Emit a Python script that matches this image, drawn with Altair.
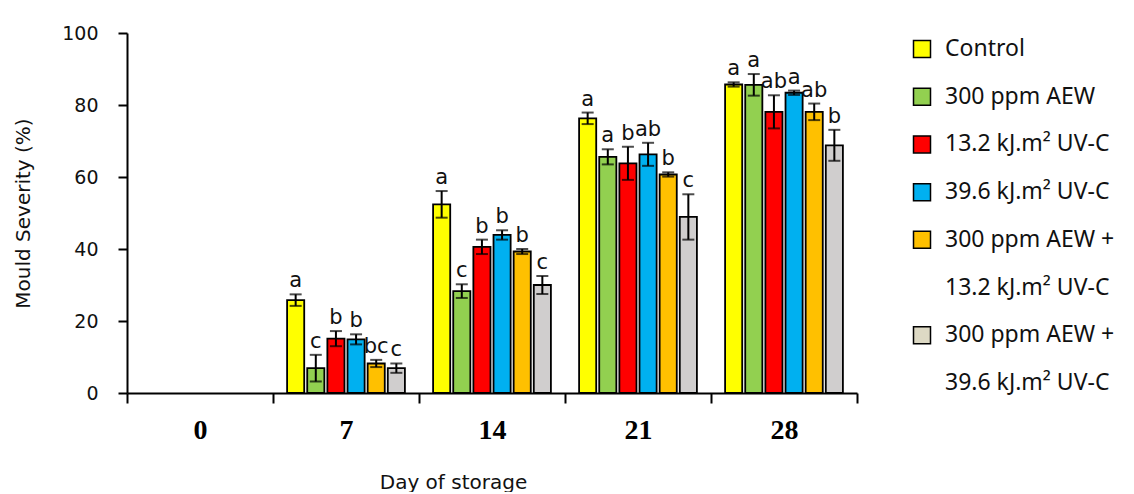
import altair as alt
import pandas as pd

days = ["0", "7", "14", "21", "28"]
treatments = [
    "Control",
    "300 ppm AEW",
    "13.2 kJ.m² UV-C",
    "39.6 kJ.m² UV-C",
    "300 ppm AEW + 13.2 kJ.m² UV-C",
    "300 ppm AEW + 39.6 kJ.m² UV-C",
]
bar_colors = ["#FFFF00", "#92D050", "#FF0000", "#00B0F0", "#FFC000", "#D0CECE"]
legend_colors = ["#FFFF00", "#92D050", "#FF0000", "#00B0F0", "#FFC000", "#DDD9C4"]

mean_control = [0, 25.8, 52.4, 76.3, 85.7]
mean_aew = [0, 6.9, 28.3, 65.6, 85.6]
mean_uv13 = [0, 15.1, 40.6, 63.8, 78.1]
mean_uv39 = [0, 14.9, 43.9, 66.3, 83.4]
mean_aew_uv13 = [0, 8.2, 39.3, 60.7, 78.1]
mean_aew_uv39 = [0, 6.9, 30.0, 48.9, 68.8]

err_control = [0, 1.6, 3.7, 1.6, 0.6]
err_aew = [0, 3.7, 1.9, 2.1, 3.0]
err_uv13 = [0, 2.1, 2.0, 4.6, 4.6]
err_uv39 = [0, 1.4, 1.3, 3.2, 0.6]
err_aew_uv13 = [0, 1.0, 0.7, 0.6, 2.3]
err_aew_uv39 = [0, 1.3, 2.5, 6.3, 4.3]

let_control = ["", "a", "a", "a", "a"]
let_aew = ["", "c", "c", "a", "a"]
let_uv13 = ["", "b", "b", "b", "ab"]
let_uv39 = ["", "b", "b", "ab", "a"]
let_aew_uv13 = ["", "bc", "b", "b", "ab"]
let_aew_uv39 = ["", "c", "c", "c", "b"]

legend_lines = [
    ["Control"],
    ["300 ppm AEW"],
    ["13.2 kJ.m² UV-C"],
    ["39.6 kJ.m² UV-C"],
    ["300 ppm AEW +", "13.2 kJ.m² UV-C"],
    ["300 ppm AEW +", "39.6 kJ.m² UV-C"],
]

means = [mean_control, mean_aew, mean_uv13, mean_uv39, mean_aew_uv13, mean_aew_uv39]
errs = [err_control, err_aew, err_uv13, err_uv39, err_aew_uv13, err_aew_uv39]
lets = [let_control, let_aew, let_uv13, let_uv39, let_aew_uv13, let_aew_uv39]

rows = []
for t, m, e, l in zip(treatments, means, errs, lets):
    for d, mv, ev, lv in zip(days, m, e, l):
        rows.append({"day": d, "treatment": t, "mean": mv, "low": mv - ev,
                     "high": mv + ev, "letter": lv})
df = pd.DataFrame(rows)

x_enc = alt.X(
    "day:N",
    scale=alt.Scale(domain=days, paddingInner=0, paddingOuter=0),
    axis=alt.Axis(
        title="Day of storage", labelAngle=0, tickBand="extent",
        labelFont="Liberation Serif", labelFontWeight="bold", labelFontSize=28,
        labelColor="black", labelPadding=13,
        titleFont="DejaVu Sans", titleFontSize=20, titleFontWeight="normal",
        titleColor="#111", titlePadding=28, titleX=326,
        domainColor="black", domainWidth=2, tickColor="black", tickWidth=2,
        tickSize=10,
    ),
)
xo_enc = alt.XOffset(
    "treatment:N",
    scale=alt.Scale(domain=treatments, paddingInner=0.15, paddingOuter=0.7),
)
y_axis = alt.Axis(
    title="Mould Severity (%)", values=[0, 20, 40, 60, 80, 100], grid=False,
    labelFont="DejaVu Sans", labelFontSize=19, labelColor="#111", labelPadding=20,
    titleFont="DejaVu Sans", titleFontSize=20, titleFontWeight="normal",
    titleColor="#111", titlePadding=28,
    domainColor="black", domainWidth=2, tickColor="black", tickWidth=2, tickSize=9,
)
y_scale = alt.Scale(domain=[0, 100])

base = alt.Chart(df).transform_filter("datum.mean > 0")

bars = base.mark_bar(stroke="black", strokeWidth=1.8).encode(
    x=x_enc, xOffset=xo_enc,
    y=alt.Y("mean:Q", scale=y_scale, axis=y_axis),
    color=alt.Color("treatment:N", scale=alt.Scale(domain=treatments, range=bar_colors), legend=None),
)
rules = base.mark_rule(color="black", strokeWidth=2).encode(
    x=x_enc, xOffset=xo_enc,
    y=alt.Y("low:Q", scale=y_scale, axis=y_axis), y2="high:Q",
)
tick_lo = base.mark_tick(color="black", thickness=2, size=12).encode(
    x=x_enc, xOffset=xo_enc, y=alt.Y("low:Q", scale=y_scale, axis=y_axis),
)
tick_hi = base.mark_tick(color="black", thickness=2, size=12).encode(
    x=x_enc, xOffset=xo_enc, y=alt.Y("high:Q", scale=y_scale, axis=y_axis),
)
labels = base.mark_text(baseline="bottom", dy=-3, fontSize=21, font="DejaVu Sans", color="#111").encode(
    x=x_enc, xOffset=xo_enc, y=alt.Y("high:Q", scale=y_scale, axis=y_axis),
    text="letter:N",
)

main = alt.layer(bars, rules, tick_lo, tick_hi, labels).properties(width=730, height=360)

leg_rows = []
r = 0
for t, lines in zip(treatments, legend_lines):
    for i, line in enumerate(lines):
        leg_rows.append({"row": r, "text": line, "treatment": t, "first": i == 0})
        r += 1
ldf = pd.DataFrame(leg_rows)

ly = alt.Y("row:Q", scale=alt.Scale(domain=[-0.335, 7.21], reverse=True), axis=None)
leg_sym = alt.Chart(ldf).transform_filter("datum.first").mark_square(
    size=289, stroke="black", strokeWidth=1.5, opacity=1
).encode(
    x=alt.value(44), y=ly,
    color=alt.Color("treatment:N", scale=alt.Scale(domain=treatments, range=legend_colors), legend=None),
)
leg_txt = alt.Chart(ldf).mark_text(
    align="left", baseline="middle", fontSize=23, font="Noto Sans", color="#111"
).encode(x=alt.value(67), y=ly, text="text:N")

legend = alt.layer(leg_sym, leg_txt).properties(width=210, height=360)

chart = alt.hconcat(main, legend, spacing=20).resolve_scale(color="independent").configure_view(
    stroke=None
).properties(padding={"left": 5, "top": 16, "right": 0, "bottom": 0})

chart.save("out.html", embed_options={"renderer": "svg", "actions": False})
